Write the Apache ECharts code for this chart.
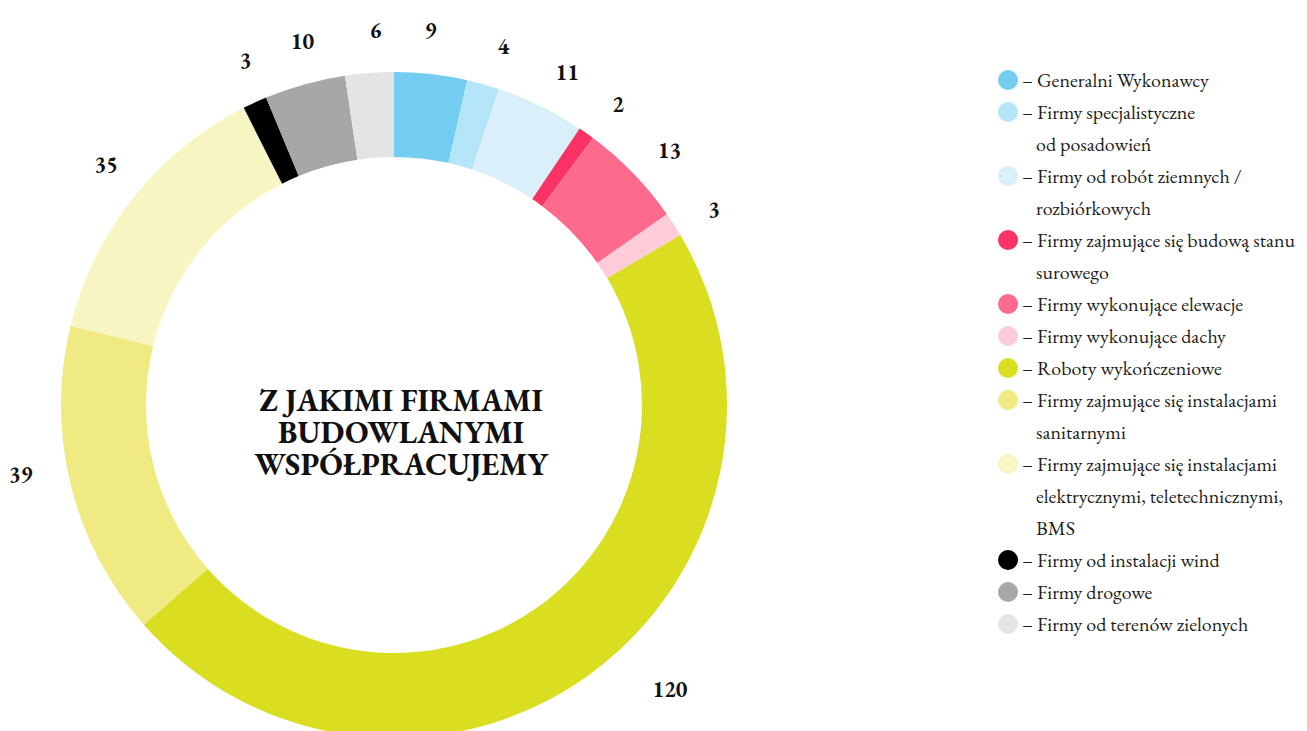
<!DOCTYPE html>
<html>
<head>
<meta charset="utf-8">
<script src="https://cdn.jsdelivr.net/npm/echarts@6/dist/echarts.min.js"></script>
<style>
  html, body { margin: 0; background: #fff; }
  #chart { width: 1307px; height: 731px; }
</style>
</head>
<body>
<div id="chart"></div>
<script>
// Kategorie (\n = łamanie linii w legendzie), wartości i kolory segmentów.
const categories = [
  'Generalni Wykonawcy',
  'Firmy specjalistyczne\nod posadowień',
  'Firmy od robót ziemnych /\nrozbiórkowych',
  'Firmy zajmujące się budową stanu\nsurowego',
  'Firmy wykonujące elewacje',
  'Firmy wykonujące dachy',
  'Roboty wykończeniowe',
  'Firmy zajmujące się instalacjami\nsanitarnymi',
  'Firmy zajmujące się instalacjami\nelektrycznymi, teletechnicznymi,\nBMS',
  'Firmy od instalacji wind',
  'Firmy drogowe',
  'Firmy od terenów zielonych',
];
const values = [9, 4, 11, 2, 13, 3, 120, 39, 35, 3, 10, 6];
const colors = [
  '#73cdf1', '#b4e5f8', '#d9f0fa', '#fb3264', '#fd6a8b', '#fecbd8',
  '#d9de21', '#f0ea82', '#f7f6c3', '#000000', '#a6a7a9', '#e4e4e4',
];
const title = 'Z JAKIMI FIRMAMI\nBUDOWLANYMI\nWSPÓŁPRACUJEMY';
// ręczne przesunięcia etykiet (jak w oryginale)
const labelNudge = { 0: [-14, -3], 6: [63, -24], 7: [-7, -11] };

const FONT = "'EB Garamond', Garamond, 'Liberation Serif', serif";
const CENTER = [394, 405];

const rich = {
  s: { width: 38, lineHeight: 32 },
  t: { fontSize: 20, lineHeight: 32, color: '#1d1d1b', fontFamily: FONT },
};
colors.forEach((c, i) => {
  rich['c' + i] = { width: 20, height: 20, borderRadius: 10, backgroundColor: c, lineHeight: 32 };
});

const chart = echarts.init(document.getElementById('chart'), null, { renderer: 'svg' });
chart.setOption({
  animation: false,
  color: colors,
  legend: {
    orient: 'vertical',
    left: 993,
    top: 64,
    padding: 0,
    itemGap: 0,
    itemWidth: 0,
    itemHeight: 0,
    selectedMode: false,
    itemStyle: { color: 'rgba(0,0,0,0)', borderWidth: 0 },
    data: categories,
    formatter: (name) => {
      const i = categories.indexOf(name);
      return name.split('\n')
        .map((line, k) => (k === 0 ? `{c${i}|}{t| – ${line}}` : `{s|}{t|${line}}`))
        .join('\n');
    },
    textStyle: { fontFamily: FONT, fontSize: 20, lineHeight: 32, color: '#1d1d1b', rich },
  },
  graphic: [{
    type: 'text',
    x: 401,
    y: 432,
    style: {
      text: title,
      align: 'center',
      verticalAlign: 'middle',
      fontFamily: FONT,
      fontSize: 31,
      fontWeight: 'bold',
      lineHeight: 32,
      fill: '#111',
    },
  }],
  series: [
    {
      type: 'pie',
      center: CENTER,
      radius: [248, 333],
      startAngle: 90,
      label: { show: false },
      labelLine: { show: false },
      emphasis: { disabled: true },
      data: categories.map((name, i) => ({ name, value: values[i] })),
    },
    {
      // przezroczysty pierścień tylko dla etykiet wartości
      type: 'pie',
      center: CENTER,
      radius: [352, 392],
      startAngle: 88.6,
      silent: true,
      avoidLabelOverlap: false,
      itemStyle: { color: 'rgba(0,0,0,0)' },
      emphasis: { disabled: true },
      label: {
        show: true,
        position: 'inside',
        formatter: '{c}',
        fontFamily: FONT,
        fontSize: 22,
        fontWeight: 'bold',
        color: '#111',
      },
      labelLine: { show: false },
      labelLayout: (p) => {
        const n = labelNudge[p.dataIndex];
        return n ? { dx: n[0], dy: n[1] } : {};
      },
      data: categories.map((name, i) => ({ name, value: values[i] })),
    },
  ],
});
</script>
</body>
</html>
